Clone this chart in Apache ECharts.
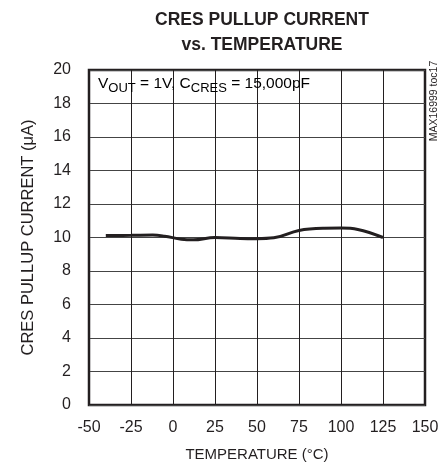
<!DOCTYPE html>
<html><head><meta charset="utf-8">
<script src="https://cdn.jsdelivr.net/npm/echarts@6/dist/echarts.min.js"></script>
<style>html,body{margin:0;padding:0;background:#fff}#c{width:443px;height:468px}</style>
</head><body><div id="c"></div>
<script>
var temps = [-40, -25, -12, -5, 5, 12, 25, 40, 50, 60, 75, 90, 100, 110, 125];
var current = [10.12, 10.13, 10.15, 10.08, 9.9, 9.86, 10.0, 9.94, 9.93, 9.98, 10.42, 10.55, 10.56, 10.48, 10.0];
var xTicks = [-50, -25, 0, 25, 50, 75, 100, 125, 150];
var yTicks = [0, 2, 4, 6, 8, 10, 12, 14, 16, 18, 20];

var F = '"Liberation Sans", Arial, sans-serif';
var chart = echarts.init(document.getElementById('c'));
chart.setOption({
  animation: false,
  title: {
    text: 'CRES PULLUP CURRENT\nvs. TEMPERATURE',
    left: 257, top: 3, textAlign: 'center',
    textStyle: {fontFamily: F, fontWeight: 'bold', fontSize: 17.5, lineHeight: 25, color: '#231f20'}
  },
  grid: {left: 89, right: 18, top: 70, bottom: 63, show: true, borderColor: '#231f20', borderWidth: 2.5},
  xAxis: {
    type: 'value', min: -50, max: 150, interval: 25,
    name: 'TEMPERATURE (°C)', nameLocation: 'middle', nameGap: 42,
    nameTextStyle: {fontFamily: F, fontSize: 15, color: '#231f20'},
    axisLine: {show: false}, axisTick: {show: false},
    axisLabel: {fontFamily: F, fontSize: 16, color: '#231f20', margin: 15,
      formatter: function (v) { return xTicks.indexOf(v) >= 0 ? String(v) : ''; }},
    splitLine: {lineStyle: {color: '#231f20', width: 1}}
  },
  yAxis: {
    type: 'value', min: 0, max: 20, interval: 2,
    name: 'CRES PULLUP CURRENT (μA)', nameLocation: 'middle', nameGap: 52,
    nameTextStyle: {fontFamily: F, fontSize: 16.5, color: '#231f20'},
    axisLine: {show: false}, axisTick: {show: false},
    axisLabel: {fontFamily: F, fontSize: 16, color: '#231f20', margin: 18,
      formatter: function (v) { return yTicks.indexOf(v) >= 0 ? String(v) : ''; }},
    splitLine: {lineStyle: {color: '#444', width: 1}}
  },
  graphic: [
    {type: 'text', left: 98, top: 76, z: 10,
      style: {
        text: '{m|V}{s|OUT}{m| = 1V, C}{s|CRES}{m| = 15,000pF}',
        rich: {
          m: {fontFamily: F, fontSize: 15.5, color: '#231f20', verticalAlign: 'bottom', lineHeight: 20},
          s: {fontFamily: F, fontSize: 13, color: '#231f20', verticalAlign: 'bottom', lineHeight: 16, padding: [0, 0, -3, 0]}
        }
      }},
    {type: 'text', x: 434, y: 101, rotation: Math.PI / 2,
      style: {text: 'MAX16999 toc17', fontFamily: F, fontSize: 10.5, fill: '#231f20', align: 'center', verticalAlign: 'middle'}}
  ],
  series: [{
    type: 'line', data: temps.map(function (t, i) { return [t, current[i]]; }),
    smooth: 0.4, showSymbol: false, lineStyle: {color: '#231f20', width: 3}
  }]
});
</script></body></html>
